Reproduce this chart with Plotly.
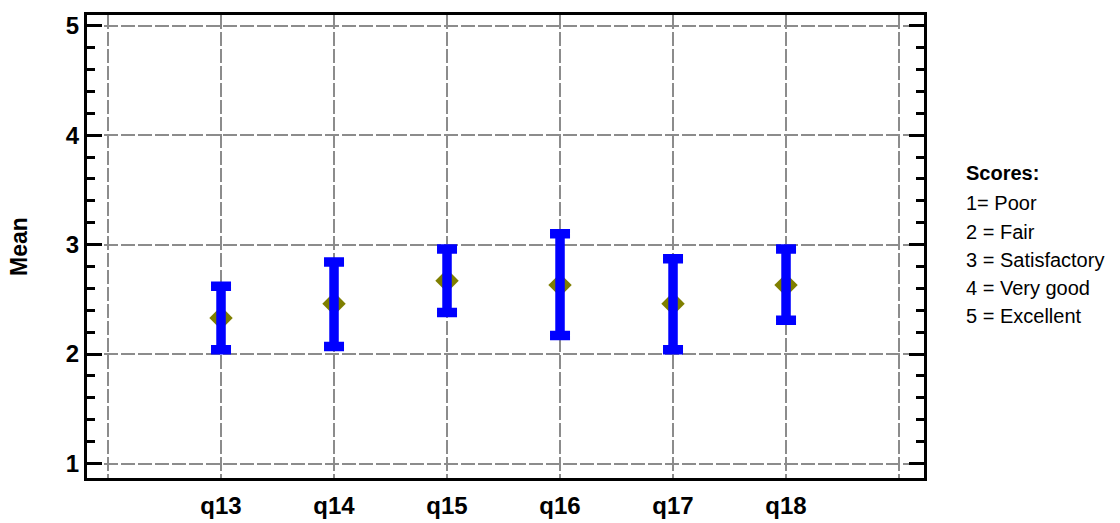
import plotly.graph_objects as go

categories = ["q13", "q14", "q15", "q16", "q17", "q18"]
means = [2.33, 2.46, 2.67, 2.63, 2.46, 2.63]
upper = [2.62, 2.84, 2.96, 3.10, 2.87, 2.96]
lower = [2.04, 2.07, 2.38, 2.17, 2.04, 2.31]
legend_title = "Scores:"
legend_lines = ["1= Poor", "2 = Fair", "3 = Satisfactory", "4 = Very good", "5 = Excellent"]

xpos = list(range(1, len(categories) + 1))
err_up = [u - m for u, m in zip(upper, means)]
err_dn = [m - l for m, l in zip(means, lower)]

fig = go.Figure()
fig.add_trace(go.Scatter(
    x=xpos, y=means, mode="markers",
    marker=dict(symbol="diamond", size=18, color="#7f7f00"),
    showlegend=False, hoverinfo="skip"))
fig.add_trace(go.Scatter(
    x=xpos, y=means, mode="markers",
    marker=dict(size=1, color="rgba(0,0,0,0)"),
    error_y=dict(type="data", symmetric=False, array=err_up, arrayminus=err_dn,
                 color="#0000ff", thickness=9.5, width=10),
    showlegend=False))

FONT = "Liberation Sans, Arial"

fig.update_layout(
    width=1120, height=523,
    margin=dict(l=87, r=196, t=15, b=45, autoexpand=False),
    paper_bgcolor="white", plot_bgcolor="white",
    xaxis=dict(range=[-0.186, 7.221], tickvals=list(range(0, 8)),
               ticktext=[""] + categories + [""], automargin=False,
               showline=True, linecolor="black", linewidth=3, mirror=True,
               ticks="", showgrid=True, gridcolor="#8c8c8c", gridwidth=2.2,
               griddash="14px,3px", zeroline=False,
               tickfont=dict(family=FONT, size=24, color="black", weight="bold"),
               ticklabelstandoff=4),
    yaxis=dict(range=[0.868, 5.097], tickvals=[1, 2, 3, 4, 5], automargin=False,
               showline=True, linecolor="black", linewidth=3, mirror="allticks",
               ticks="inside", ticklen=15, tickwidth=3, tickcolor="black",
               minor=dict(dtick=0.2, ticks="inside", ticklen=8, tickwidth=3,
                          tickcolor="black", showgrid=False),
               showgrid=True, gridcolor="#8c8c8c", gridwidth=2.2, griddash="14px,3px",
               zeroline=False,
               tickfont=dict(family=FONT, size=24, color="black", weight="bold"),
               title=dict(text="Mean", standoff=32,
                          font=dict(family=FONT, size=23, color="black", weight="bold"))),
)

# legend text block on the right
ys_px = [173.5, 203, 231.5, 259.5, 287.5, 315.5]
texts = [legend_title] + legend_lines
for i, (t, yp) in enumerate(zip(texts, ys_px)):
    fig.add_annotation(
        xref="paper", yref="paper",
        x=(964 - 87) / 837, y=(478 - yp) / 463,
        xanchor="left", yanchor="middle", showarrow=False, text=t,
        font=dict(family=FONT, size=20, color="black",
                  weight="bold" if i == 0 else "normal"))

fig.write_html("out.html", config={"displayModeBar": False},
               post_script="document.body.style.margin='0';document.body.style.overflow='hidden';")
